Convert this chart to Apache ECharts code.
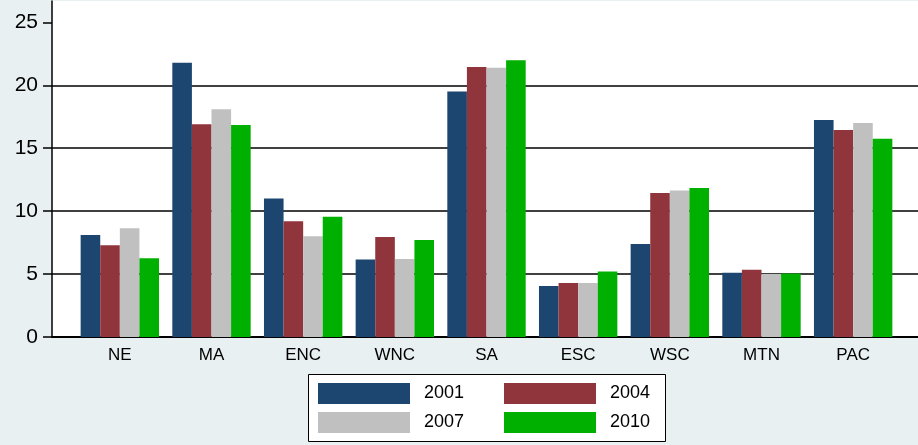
<!DOCTYPE html>
<html>
<head>
<meta charset="utf-8">
<script src="https://cdn.jsdelivr.net/npm/echarts@6/dist/echarts.min.js"></script>
<style>
  html, body { margin: 0; padding: 0; background: #e8f0f2; }
  #chart { width: 918px; height: 445px; }
</style>
</head>
<body>
<div id="chart"></div>
<script>
const categories = ['NE', 'MA', 'ENC', 'WNC', 'SA', 'ESC', 'WSC', 'MTN', 'PAC']
const y2001 = [8.1, 21.8, 11.0, 6.15, 19.5, 4.05, 7.4, 5.1, 17.25]
const y2004 = [7.3, 16.9, 9.2, 7.95, 21.45, 4.3, 11.45, 5.35, 16.45]
const y2007 = [8.65, 18.1, 8.0, 6.2, 21.4, 4.3, 11.65, 5.0, 17.0]
const y2010 = [6.25, 16.85, 9.55, 7.7, 22.0, 5.2, 11.85, 5.05, 15.75]
const yTicks = [0, 5, 10, 15, 20, 25]
const seriesNames = ['2001', '2004', '2007', '2010']
const colors = ['#1c4670', '#90353b', '#c0c0c0', '#00b000']

const font = '"Liberation Sans", Arial, sans-serif'
const yMax = 26.7

const chart = echarts.init(document.getElementById('chart'))

// one legend per item so each swatch sits where Stata put it
const legendPos = [[318, 383], [504, 383], [318, 412], [504, 412]]
const legends = seriesNames.map((name, i) => ({
  data: [name],
  left: legendPos[i][0],
  top: legendPos[i][1],
  padding: 0,
  icon: 'rect',
  itemWidth: 92,
  itemHeight: 21,
  selectedMode: false,
  textStyle: { fontFamily: font, fontSize: 18, color: '#000', padding: [0, 0, 0, 9] }
}))

const option = {
  backgroundColor: '#e8f0f2',
  animation: false,
  color: colors,
  graphic: [
    {
      type: 'rect',
      z: 0,
      shape: { x: 308.5, y: 374.5, width: 357, height: 67 },
      style: { fill: '#fff', stroke: '#000', lineWidth: 1 }
    }
  ],
  legend: legends,
  grid: [
    // background plot region with y axis and gridlines
    { left: 52, right: 0, top: 1, bottom: 108, show: true, backgroundColor: '#fff', borderWidth: 0 },
    // bars, inset like Stata's outer gaps
    { left: 74, right: 19, top: 1, bottom: 108 }
  ],
  xAxis: [
    {
      gridIndex: 0,
      type: 'category',
      data: [''],
      axisLine: { show: true, lineStyle: { color: '#000', width: 2 } },
      axisTick: { show: false },
      axisLabel: { show: false }
    },
    {
      gridIndex: 1,
      type: 'category',
      data: categories,
      axisLine: { show: false },
      axisTick: { show: false },
      axisLabel: { margin: 10, fontFamily: font, fontSize: 17, color: '#000' }
    }
  ],
  yAxis: [
    {
      gridIndex: 0,
      type: 'value',
      min: 0,
      max: yMax,
      interval: 5,
      axisLine: { show: true, lineStyle: { color: '#000', width: 1.5 } },
      axisTick: { show: true, length: 9, customValues: yTicks, lineStyle: { color: '#000', width: 1.5 } },
      axisLabel: { margin: 14, customValues: yTicks, fontFamily: font, fontSize: 21, color: '#000' },
      splitLine: {
        show: true,
        showMaxLine: false,
        lineStyle: { color: '#000', width: 1.5 }
      }
    },
    {
      gridIndex: 1,
      type: 'value',
      min: 0,
      max: yMax,
      show: false,
      splitLine: { show: false }
    }
  ],
  series: [y2001, y2004, y2007, y2010].map((data, i) => ({
    name: seriesNames[i],
    type: 'bar',
    xAxisIndex: 1,
    yAxisIndex: 1,
    barGap: '0%',
    barCategoryGap: '14.5%',
    itemStyle: { color: colors[i] },
    data: data
  }))
}

chart.setOption(option)
</script>
</body>
</html>
